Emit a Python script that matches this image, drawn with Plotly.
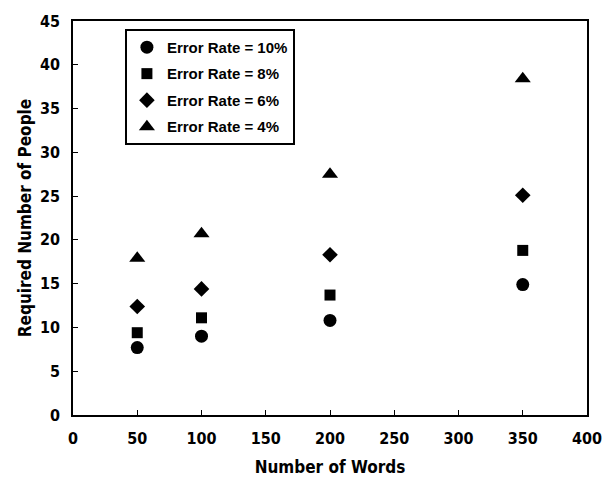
import plotly.graph_objects as go

words = [50, 100, 200, 350]
rate_10 = [7.7, 9.0, 10.8, 14.9]
rate_8 = [9.4, 11.1, 13.7, 18.8]
rate_6 = [12.4, 14.4, 18.3, 25.1]
rate_4 = [17.9, 20.7, 27.5, 38.4]

series = [
    ("Error Rate = 10%", rate_10, "circle", 13),
    ("Error Rate = 8%", rate_8, "square", 11),
    ("Error Rate = 6%", rate_6, "diamond", 12),
    ("Error Rate = 4%", rate_4, "triangle-up", 14),
]

fig = go.Figure()
for i, (name, vals, sym, sz) in enumerate(series):
    fig.add_trace(go.Scatter(
        x=words, y=vals, mode="markers", name=name,
        legendgroup=f"g{i}",
        marker=dict(symbol=sym, size=sz, color="black", line=dict(width=0)),
    ))

font_family = "DejaVu Sans Condensed, Liberation Sans, Arial, sans-serif"
fig.update_layout(
    width=614, height=486,
    margin=dict(l=73, r=27, t=18, b=71),
    paper_bgcolor="white", plot_bgcolor="white",
    font=dict(family=font_family, color="black", size=14),
    showlegend=True,
    legend=dict(
        x=0.101, y=0.98, xanchor="left", yanchor="top",
        bordercolor="black", borderwidth=2, bgcolor="white",
        font=dict(family="Liberation Sans, Arial, sans-serif", size=15, weight="bold"),
        tracegroupgap=4, itemwidth=30,
    ),
    xaxis=dict(
        range=[0, 400], tickvals=[0, 50, 100, 150, 200, 250, 300, 350, 400],
        ticks="inside", ticklen=5, tickcolor="black", ticklabelstandoff=8,
        showline=True, linecolor="black", linewidth=1.5, mirror=True,
        showgrid=False, zeroline=False,
        title=dict(text="Number of Words", font=dict(size=17, weight=600), standoff=14),
        tickfont=dict(size=16, weight="bold"),
    ),
    yaxis=dict(
        range=[0, 45], tickvals=[0, 5, 10, 15, 20, 25, 30, 35, 40, 45],
        ticks="inside", ticklen=5, tickcolor="black", ticklabelstandoff=8,
        showline=True, linecolor="black", linewidth=1.5, mirror=True,
        showgrid=False, zeroline=False,
        title=dict(text="Required Number of People", font=dict(size=17, weight=600), standoff=4),
        tickfont=dict(size=16, weight="bold"),
    ),
)

fig.write_html("out.html")
